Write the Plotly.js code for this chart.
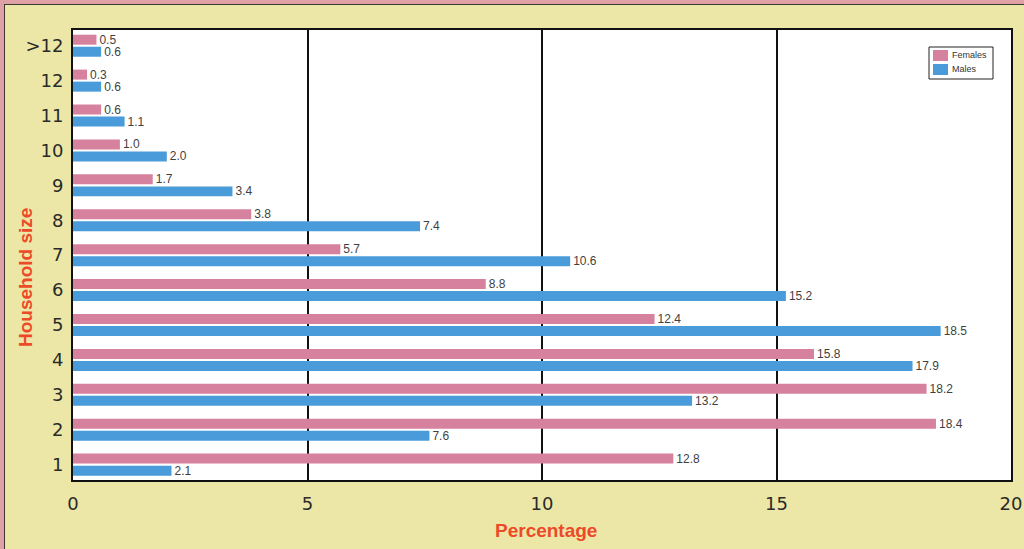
<!DOCTYPE html>
<html>
<head>
<meta charset="utf-8">
<script src="https://cdn.plot.ly/plotly-3.0.1.min.js"></script>
<style>
  html, body { margin: 0; padding: 0; width: 1024px; height: 549px; overflow: hidden; background: #dfa0a6; }
  #frame { position: absolute; left: 4px; top: 4px; border-left: 1px solid #3a3a30; border-top: 1px solid #3a3a30; }
  #chart { width: 1020px; height: 545px; }
</style>
</head>
<body>
<div id="frame"><div id="chart"></div></div>
<script>
// Household size distribution by sex (percent)
const householdSizes = ['1', '2', '3', '4', '5', '6', '7', '8', '9', '10', '11', '12', '>12'];
const femalesPct = [12.8, 18.4, 18.2, 15.8, 12.4, 8.8, 5.7, 3.8, 1.7, 1.0, 0.6, 0.3, 0.5];
const malesPct   = [2.1, 7.6, 13.2, 17.9, 18.5, 15.2, 10.6, 7.4, 3.4, 2.0, 1.1, 0.6, 0.6];
const xTicks = [0, 5, 10, 15, 20];
const seriesNames = ['Females', 'Males'];
const seriesColors = ['#d6829f', '#4a9bd9'];

const W = 1020, H = 545;
const M = { l: 68, r: 14, t: 25, b: 70 };
// pixel position inside the chart div -> paper coordinates
const px = x => (x - M.l) / (W - M.l - M.r);
const py = y => 1 - (y - M.t) / (H - M.t - M.b);

const labelFont = { family: 'Liberation Sans, Arial, sans-serif', size: 12, color: '#3f3f3f' };

const males = {
  type: 'bar', orientation: 'h', name: seriesNames[1],
  y: householdSizes, x: malesPct,
  text: malesPct.map(v => v.toFixed(1)),
  textposition: 'outside', constraintext: 'none', textfont: labelFont, cliponaxis: false,
  marker: { color: seriesColors[1], line: { width: 0 } },
  hoverinfo: 'x+y+name'
};
const females = {
  type: 'bar', orientation: 'h', name: seriesNames[0],
  y: householdSizes, x: femalesPct,
  text: femalesPct.map(v => v.toFixed(1)),
  textposition: 'outside', constraintext: 'none', textfont: labelFont, cliponaxis: false,
  marker: { color: seriesColors[0], line: { width: 0 } },
  hoverinfo: 'x+y+name'
};

const titleColor = '#ec4a28';
const titleFont = { family: 'Liberation Sans, Arial, sans-serif', size: 19, color: titleColor, weight: 'bold' };
const tickFont = { family: 'DejaVu Sans, sans-serif', size: 18, color: '#2a2a2a' };

// compact legend box in the upper right of the plot
const legendShapes = [
  { type: 'rect', xref: 'paper', yref: 'paper', x0: px(924), x1: px(988), y0: py(42), y1: py(74),
    fillcolor: '#ffffff', line: { color: '#222222', width: 1 }, layer: 'above' }
];
const legendNotes = [];
seriesNames.forEach((name, i) => {
  const top = 45 + i * 14;
  legendShapes.push({ type: 'rect', xref: 'paper', yref: 'paper', x0: px(928), x1: px(943),
    y0: py(top), y1: py(top + 11), fillcolor: seriesColors[i], line: { width: 0 }, layer: 'above' });
  legendNotes.push({ xref: 'paper', yref: 'paper', x: px(945), y: py(top + 5.5), xanchor: 'left', yanchor: 'middle',
    text: name, showarrow: false, font: { family: 'Liberation Sans, Arial, sans-serif', size: 9, color: '#333333' } });
});

const layout = {
  width: W, height: H,
  paper_bgcolor: '#ece7a6',
  plot_bgcolor: '#ffffff',
  margin: M,
  barmode: 'group',
  bargap: 0.31,
  bargroupgap: 0.17,
  showlegend: false,
  xaxis: {
    range: [0, 20], tickvals: xTicks, ticktext: xTicks.map(String),
    showgrid: true, gridcolor: '#111111', gridwidth: 2,
    zeroline: false, showline: true, linecolor: '#111111', linewidth: 2, mirror: true,
    ticks: '', tickfont: tickFont, ticklabelstandoff: 6
  },
  yaxis: {
    type: 'category', range: [-0.44, 12.45],
    showgrid: false, zeroline: false,
    showline: true, linecolor: '#111111', linewidth: 2, mirror: true,
    ticks: '', tickfont: tickFont, ticklabelstandoff: 4
  },
  shapes: legendShapes,
  annotations: legendNotes.concat([
    { xref: 'paper', yref: 'paper', x: px(20), y: py(273), xanchor: 'center', yanchor: 'middle',
      text: 'Household size', textangle: -90, showarrow: false, font: titleFont },
    { xref: 'paper', yref: 'paper', x: px(541), y: py(525), xanchor: 'center', yanchor: 'middle',
      text: 'Percentage', showarrow: false, font: titleFont }
  ])
};

Plotly.newPlot('chart', [males, females], layout, { displayModeBar: false, staticPlot: true });
</script>
</body>
</html>
